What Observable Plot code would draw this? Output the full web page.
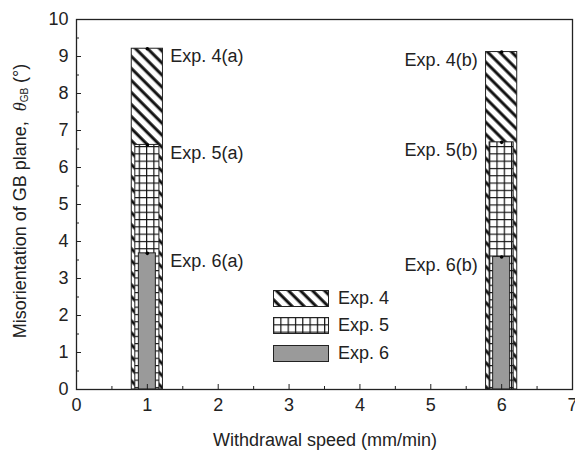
<!DOCTYPE html>
<html><head><meta charset="utf-8">
<script src="https://cdn.jsdelivr.net/npm/d3@7"></script>
<script src="https://cdn.jsdelivr.net/npm/@observablehq/plot@0.6"></script>
<style>
body{margin:0;background:#fff;font-family:"Liberation Sans",Arial,sans-serif;}
#wrap{position:relative;width:575px;height:451px;}
#legend{position:absolute;left:273px;top:290px;font-size:18px;color:#222;}
.row{display:flex;align-items:center;height:16px;margin-bottom:11.5px;}
.row svg{margin-right:9px;display:block;}
</style></head><body><div id="wrap"><div id="legend"></div></div>
<script>
// ---- data ----
const speeds = [1, 6];
const exp4 = [9.21, 9.12];
const exp5 = [6.61, 6.68];
const exp6 = [3.68, 3.58];
const labels4 = ["Exp. 4(a)", "Exp. 4(b)"];
const labels5 = ["Exp. 5(a)", "Exp. 5(b)"];
const labels6 = ["Exp. 6(a)", "Exp. 6(b)"];
const legendNames = ["Exp. 4", "Exp. 5", "Exp. 6"];
const xTicks = [0, 1, 2, 3, 4, 5, 6, 7];
const yTicks = [0, 1, 2, 3, 4, 5, 6, 7, 8, 9, 10];
const xTitle = "Withdrawal speed (mm/min)";

// ---- styles ----
const series = [
  {values: exp4, labels: labels4, half: 0.22, fill: "url(#pat4)"},
  {values: exp5, labels: labels5, half: 0.17, fill: "url(#pat5)"},
  {values: exp6, labels: labels6, half: 0.12, fill: "#9a9a9a"}
];
const ink = "#222";
const fs = 18;

function defsMarkup() {
  return `<pattern id="pat4" patternUnits="userSpaceOnUse" width="8.5" height="8.5" patternTransform="rotate(-45)">
      <rect width="8.5" height="8.5" fill="#fff"/>
      <line x1="2" y1="0" x2="2" y2="8.5" stroke="#111" stroke-width="3"/>
    </pattern>
    <pattern id="pat5" patternUnits="userSpaceOnUse" width="7.3" height="7.3">
      <rect width="7.3" height="7.3" fill="#fff"/>
      <path d="M0,0.6H7.3M0.6,0V7.3" stroke="#111" stroke-width="1.2"/>
    </pattern>`;
}

const rowsFor = s => speeds.map((x, i) => ({x, v: s.values[i], label: s.labels[i], side: i}));

const marks = [
  () => { const d = document.createElementNS("http://www.w3.org/2000/svg", "defs"); d.innerHTML = defsMarkup(); return d; }
];
for (const s of series) {
  marks.push(Plot.rect(rowsFor(s), {
    x1: d => d.x - s.half, x2: d => d.x + s.half, y1: d => 0, y2: "v",
    fill: s.fill, stroke: ink, strokeWidth: 1
  }));
}
for (const s of series) {
  const rows = rowsFor(s);
  marks.push(Plot.dot(rows, {x: "x", y: "v", r: 1.8, fill: "#000"}));
  marks.push(Plot.text(rows.filter(d => d.side === 0), {x: "x", y: "v", text: "label", textAnchor: "start", dx: 23, dy: 8, fontSize: fs, fill: ink}));
  marks.push(Plot.text(rows.filter(d => d.side === 1), {x: "x", y: "v", text: "label", textAnchor: "end", dx: -24, dy: 8, fontSize: fs, fill: ink}));
}
const minorX = d3.range(0.5, 7, 1);
const minorY = d3.range(0.5, 10, 1);
marks.push(
  Plot.axisX(xTicks, {tickSize: -5, tickPadding: 14, fontSize: fs, stroke: ink, fill: ink, label: null}),
  Plot.axisX(minorX, {tickSize: -3, tickFormat: () => "", stroke: ink, label: null}),
  Plot.axisY(yTicks, {tickSize: -5, tickPadding: 13, fontSize: fs, stroke: ink, fill: ink, label: null}),
  Plot.axisY(minorY, {tickSize: -3, tickFormat: () => "", stroke: ink, label: null}),
  Plot.frame({stroke: ink, strokeWidth: 1.3})
);

const chart = Plot.plot({
  width: 575, height: 451,
  marginLeft: 76, marginRight: 3, marginTop: 19, marginBottom: 62,
  x: {domain: [0, 7], label: null},
  y: {domain: [0, 10], label: null},
  style: {fontFamily: "'Liberation Sans', Arial, sans-serif", fontSize: fs + "px", color: ink, background: "#fff"},
  marks
});

const svg = d3.select(chart);
// x-axis title
svg.append("text")
  .attr("x", 325).attr("y", 440)
  .attr("text-anchor", "middle").attr("dominant-baseline", "central")
  .attr("font-size", fs).attr("fill", ink).text(xTitle);
// y-axis title with italic theta and subscript
const yt = svg.append("text")
  .attr("transform", "translate(20,201) rotate(-90)")
  .attr("text-anchor", "middle").attr("dominant-baseline", "central")
  .attr("font-size", fs).attr("fill", ink);
yt.append("tspan").text("Misorientation of GB plane,  ");
yt.append("tspan").attr("font-style", "italic").attr("font-family", "'Liberation Serif', serif").text("θ");
yt.append("tspan").attr("font-size", 10).attr("dy", 4).text("GB");
yt.append("tspan").attr("dy", -4).text(" (°)");

document.getElementById("wrap").prepend(chart);

// legend
const legend = d3.select("#legend");
series.forEach((s, i) => {
  const row = legend.append("div").attr("class", "row");
  const sw = row.append("svg").attr("width", 56).attr("height", 17);
  sw.append("rect").attr("x", 0.5).attr("y", 0.5).attr("width", 55).attr("height", 16)
    .attr("fill", s.fill).attr("stroke", ink).attr("stroke-width", 1);
  row.append("span").text(legendNames[i]);
});
</script></body></html>
